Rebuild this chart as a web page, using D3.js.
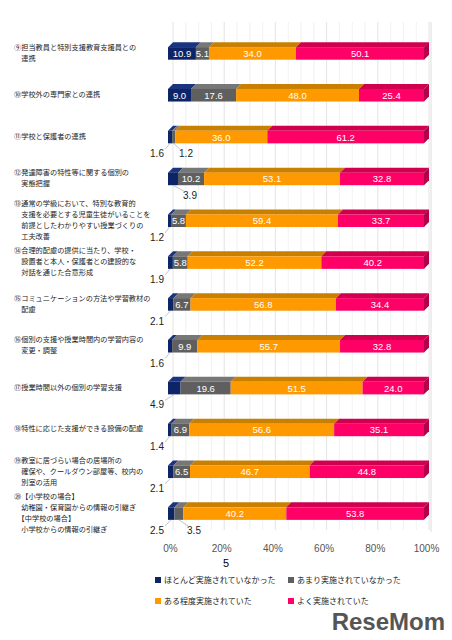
<!DOCTYPE html>
<html><head><meta charset="utf-8">
<script src="https://cdn.jsdelivr.net/npm/d3@7"></script>
<style>body{margin:0;background:#fff}</style>
</head><body><svg id="c" width="452" height="640"></svg>
<script>
const categories = [
  ["⑨担当教員と特別支援教育支援員との","　連携"],
  ["⑩学校外の専門家との連携"],
  ["⑪学校と保護者の連携"],
  ["⑫発達障害の特性等に関する個別の","　実態把握"],
  ["⑬通常の学級において、特別な教育的","　支援を必要とする児童生徒がいることを","　前提としたわかりやすい授業づくりの","　工夫改善"],
  ["⑭合理的配慮の提供に当たり、学校・","　設置者と本人・保護者との建設的な","　対話を通じた合意形成"],
  ["⑮コミュニケーションの方法や学習教材の","　配慮"],
  ["⑯個別の支援や授業時間内の学習内容の","　変更・調整"],
  ["⑰授業時間以外の個別の学習支援"],
  ["⑱特性に応じた支援ができる設備の配慮"],
  ["⑲教室に居づらい場合の居場所の","　確保や、クールダウン部屋等、校内の","　別室の活用"],
  ["⑳【小学校の場合】","　幼稚園・保育園からの情報の引継ぎ","　【中学校の場合】","　小学校からの情報の引継ぎ"]
];
const seriesNames = ["ほとんど実施されていなかった","あまり実施されていなかった","ある程度実施されていた","よく実施されていた"];
const hardly = [10.9, 9.0, 1.6, 3.9, 1.2, 1.9, 2.1, 1.6, 4.9, 1.4, 2.1, 2.5];
const rarely = [5.1, 17.6, 1.2, 10.2, 5.8, 5.8, 6.7, 9.9, 19.6, 6.9, 6.5, 3.5];
const some   = [34.0, 48.0, 36.0, 53.1, 59.4, 52.2, 56.8, 55.7, 51.5, 56.6, 46.7, 40.2];
const often  = [50.1, 25.4, 61.2, 32.8, 33.7, 40.2, 34.4, 32.8, 24.0, 35.1, 44.8, 53.8];
const ticks = [0, 20, 40, 60, 80, 100];
const colors = ["#0d2566", "#5f5f5f", "#ff9900", "#ff0066"];
const sideColors = ["#081a4a", "#444", "#c77500", "#b3004a"];
const topColors = ["#1a347e", "#777", "#c98000", "#d0004f"];

const svg = d3.select("#c");
const font = "'Noto Sans CJK JP', sans-serif";
const x = d3.scaleLinear().domain([0, 100]).range([168, 424]);
const y = d3.scaleBand().domain(d3.range(12)).range([30, 532]).paddingInner(0.58).paddingOuter(0.29);
const dd = 5; // depth offset

// grid
d3.range(0, 101, 5).forEach(v => {
  svg.append("line").attr("x1", x(v) + dd).attr("x2", x(v) + dd).attr("y1", 22).attr("y2", 530)
    .attr("stroke", v % 20 === 0 ? "#ddd" : "#eee").attr("stroke-width", 0.8);
});
svg.append("line").attr("x1", x(100) + dd + 2).attr("x2", x(100) + dd + 2).attr("y1", 22).attr("y2", 532).attr("stroke", "#ddd");

const series = [hardly, rarely, some, often];
categories.forEach((cat, i) => {
  const y0 = y(i) + dd, h = y.bandwidth() - dd;
  let acc = 0;
  series.forEach((s, k) => {
    const v = s[i], a = x(acc), b = x(acc + v);
    svg.append("path").attr("d", `M${a},${y0}L${a + dd},${y0 - dd}L${b + dd},${y0 - dd}L${b},${y0}Z`).attr("fill", topColors[k]);
    svg.append("rect").attr("x", a).attr("y", y0).attr("width", b - a).attr("height", h).attr("fill", colors[k]);
    if (v >= 5) {
      svg.append("text").attr("x", (a + b) / 2).attr("y", y0 + h / 2 + 3.5).attr("text-anchor", "middle")
        .attr("font-family", "Arial, sans-serif").attr("font-size", 9.5).attr("fill", "#fff").text(v.toFixed(1));
    }
    acc += v;
  });
  const e = x(100);
  svg.append("path").attr("d", `M${e},${y0}L${e + dd},${y0 - dd}L${e + dd},${y0 + h - dd}L${e},${y0 + h}Z`).attr("fill", sideColors[3]);

  // external labels for small values
  const by = y0 + h + 14;
  const small = [];
  const bothSmall = hardly[i] < 5 && rarely[i] < 5;
  if (hardly[i] < 5) small.push({ v: hardly[i], mid: x(hardly[i] / 2), tx: (i === 3) ? 190 : 157 });
  if (rarely[i] < 5) small.push({ v: rarely[i], mid: x(hardly[i] + rarely[i] / 2), tx: i === 11 ? 194 : 186 });
  small.forEach(d => {
    const left = d.tx < 168;
    svg.append("line").attr("x1", d.mid).attr("y1", y0 + h).attr("x2", left ? d.tx + 8 : d.tx - 6).attr("y2", by - 8)
      .attr("stroke", "#aaa").attr("stroke-width", 0.7);
    svg.append("text").attr("x", d.tx).attr("y", by).attr("text-anchor", "middle")
      .attr("font-family", "Arial, sans-serif").attr("font-size", 10).attr("fill", "#222").text(d.v.toFixed(1));
  });

  // category label
  const cy = y(i) + y.bandwidth() / 2 + 1;
  const t = svg.append("text").attr("font-family", font).attr("font-size", 7.2).attr("fill", "#222");
  cat.forEach((line, j) => {
    t.append("tspan").attr("x", 14).attr("y", cy - (cat.length - 1) * 5.3 + 3 + j * 11).text(line);
  });
});

// axis
svg.append("g").selectAll("text").data(ticks).join("text")
  .attr("x", d => x(d) + dd / 2).attr("y", 552).attr("text-anchor", "middle")
  .attr("font-family", "Arial, sans-serif").attr("font-size", 10).attr("fill", "#555").text(d => d + "%");

// page number
svg.append("text").attr("x", 226).attr("y", 567).attr("text-anchor", "middle").attr("font-family", "Arial, sans-serif").attr("font-size", 11).text("5");

// legend
const leg = [[155, 583], [288, 583], [155, 604], [288, 604]];
seriesNames.forEach((n, k) => {
  svg.append("rect").attr("x", leg[k][0]).attr("y", leg[k][1] - 6).attr("width", 6).attr("height", 6).attr("fill", colors[k]);
  svg.append("text").attr("x", leg[k][0] + 9).attr("y", leg[k][1]).attr("font-family", font).attr("font-size", 8).attr("fill", "#222").text(n);
});

// watermark
svg.append("text").attr("x", 445).attr("y", 630).attr("text-anchor", "end").attr("font-family", "Arial, sans-serif")
  .attr("font-weight", "bold").attr("font-size", 24).attr("fill", "#555").text("ReseMom");
</script></body></html>
